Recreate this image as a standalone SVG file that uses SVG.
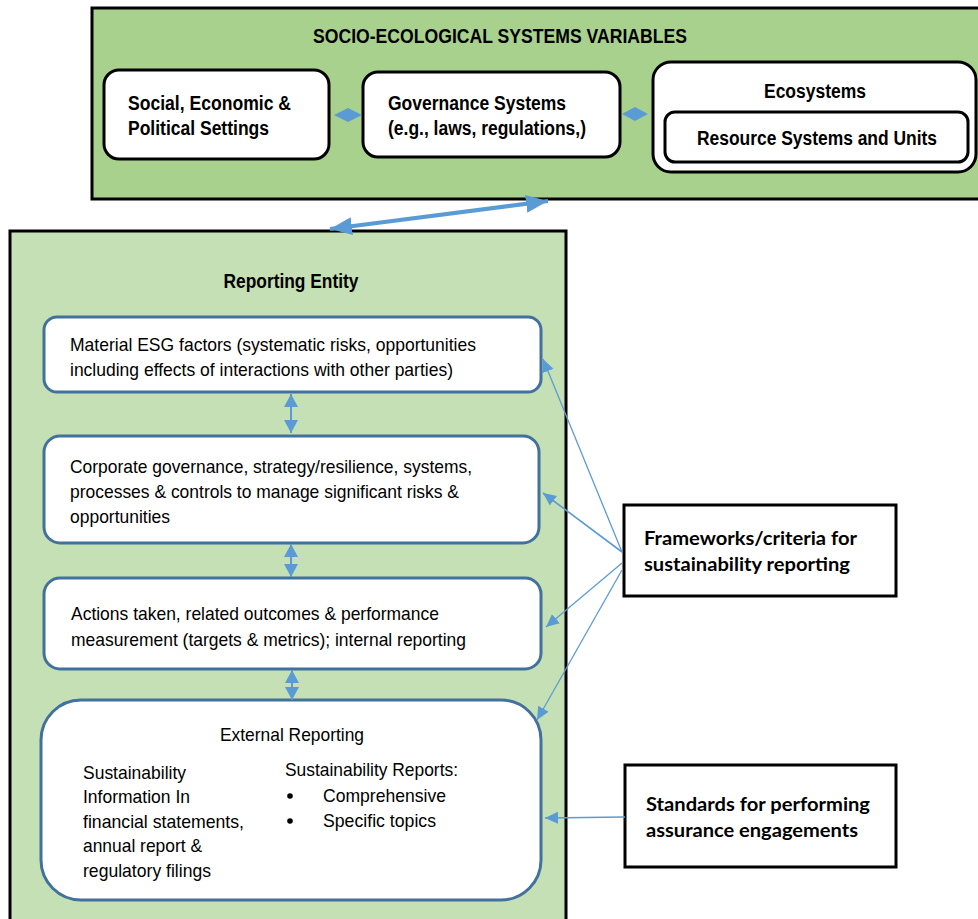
<svg xmlns="http://www.w3.org/2000/svg" width="978" height="919" viewBox="0 0 978 919">
<style>
.hb{font-family:"Liberation Sans Narrow","Liberation Sans",Arial,sans-serif;font-weight:bold;font-size:20px;fill:#000}
.t{font-family:"Liberation Sans Narrow","Liberation Sans",Arial,sans-serif;font-size:19px;fill:#000}
.c{font-family:Lato,"Open Sans","Liberation Sans",sans-serif;font-weight:bold;font-size:18.5px;fill:#000}
.wb{fill:#fff;stroke:#000;stroke-width:3}
.bb{fill:#fff;stroke:#41719c;stroke-width:3}
.con{stroke:#5b9bd5;fill:none}
</style>
<defs>
<marker id="ah" markerUnits="userSpaceOnUse" markerWidth="14" markerHeight="14" refX="13" refY="7" orient="auto-start-reverse"><path d="M0,1 L13,7 L0,13 z" fill="#5b9bd5"/></marker>
<marker id="ahv" markerUnits="userSpaceOnUse" markerWidth="14" markerHeight="16" refX="13" refY="7" orient="auto-start-reverse"><path d="M0,0 L13,7 L0,14 z" fill="#5b9bd5"/></marker>
<marker id="big" markerUnits="userSpaceOnUse" markerWidth="24" markerHeight="20" refX="22" refY="10" orient="auto-start-reverse"><path d="M0,1 L22,10 L0,19 z" fill="#5b9bd5"/></marker>
</defs>

<g id="ses">
<rect x="92" y="8" width="890" height="191" fill="#a9d18e" stroke="#000" stroke-width="3"/>
<text class="hb" x="500" y="43" text-anchor="middle" textLength="374" lengthAdjust="spacingAndGlyphs">SOCIO-ECOLOGICAL SYSTEMS VARIABLES</text>
</g>
<g id="social">
<rect class="wb" x="104" y="70" width="225" height="89" rx="15"/>
<text class="hb" x="128" y="110" textLength="163" lengthAdjust="spacingAndGlyphs">Social, Economic &amp;</text>
<text class="hb" x="128" y="135" textLength="141" lengthAdjust="spacingAndGlyphs">Political Settings</text>
</g>
<g id="governance">
<rect class="wb" x="363" y="72" width="257" height="85" rx="15"/>
<text class="hb" x="388" y="110" textLength="178" lengthAdjust="spacingAndGlyphs">Governance Systems</text>
<text class="hb" x="388" y="135" textLength="198" lengthAdjust="spacingAndGlyphs">(e.g., laws, regulations,)</text>
</g>
<g id="ecosystems">
<rect class="wb" x="653" y="62" width="323" height="110" rx="18"/>
<text class="hb" x="815" y="98" text-anchor="middle" textLength="102" lengthAdjust="spacingAndGlyphs">Ecosystems</text>
</g>
<g id="resource">
<rect class="wb" x="665" y="112" width="303" height="50" rx="10"/>
<text class="hb" x="817" y="145" text-anchor="middle" textLength="240" lengthAdjust="spacingAndGlyphs">Resource Systems and Units</text>
</g>

<g id="reporting">
<rect x="10" y="231" width="556" height="700" fill="#c5e0b4" stroke="#000" stroke-width="3"/>
<text class="hb" x="291" y="288" text-anchor="middle" font-size="19" textLength="135" lengthAdjust="spacingAndGlyphs">Reporting Entity</text>
</g>
<g id="material">
<rect class="bb" x="44" y="317" width="497" height="75" rx="13"/>
<text class="t" x="70" y="351" textLength="406" lengthAdjust="spacingAndGlyphs">Material ESG factors (systematic risks, opportunities</text>
<text class="t" x="70" y="376" textLength="383" lengthAdjust="spacingAndGlyphs">including effects of interactions with other parties)</text>
</g>
<g id="corporate">
<rect class="bb" x="44" y="436" width="495" height="107" rx="16"/>
<text class="t" x="70" y="473" textLength="402" lengthAdjust="spacingAndGlyphs">Corporate governance, strategy/resilience, systems,</text>
<text class="t" x="70" y="498" textLength="389" lengthAdjust="spacingAndGlyphs">processes &amp; controls to manage significant risks &amp;</text>
<text class="t" x="70" y="523" textLength="100" lengthAdjust="spacingAndGlyphs">opportunities</text>
</g>
<g id="actions">
<rect class="bb" x="44" y="578" width="497" height="91" rx="16"/>
<text class="t" x="71" y="620" textLength="368" lengthAdjust="spacingAndGlyphs">Actions taken, related outcomes &amp; performance</text>
<text class="t" x="71" y="646" textLength="395" lengthAdjust="spacingAndGlyphs">measurement (targets &amp; metrics); internal reporting</text>
</g>
<g id="external">
<rect class="bb" x="41" y="700" width="500" height="200" rx="40"/>
<text class="t" x="292" y="741" text-anchor="middle" textLength="144" lengthAdjust="spacingAndGlyphs">External Reporting</text>
<text class="t" x="83" y="779" textLength="103" lengthAdjust="spacingAndGlyphs">Sustainability</text>
<text class="t" x="83" y="803" textLength="107" lengthAdjust="spacingAndGlyphs">Information In</text>
<text class="t" x="83" y="828" textLength="161" lengthAdjust="spacingAndGlyphs">financial statements,</text>
<text class="t" x="83" y="852" textLength="119" lengthAdjust="spacingAndGlyphs">annual report &amp;</text>
<text class="t" x="83" y="877" textLength="128" lengthAdjust="spacingAndGlyphs">regulatory filings</text>
<text class="t" x="285" y="776" textLength="173" lengthAdjust="spacingAndGlyphs">Sustainability Reports:</text>
<circle cx="290" cy="796" r="2.8" fill="#000"/>
<text class="t" x="323" y="802" textLength="123" lengthAdjust="spacingAndGlyphs">Comprehensive</text>
<circle cx="290" cy="821" r="2.8" fill="#000"/>
<text class="t" x="323" y="827" textLength="113" lengthAdjust="spacingAndGlyphs">Specific topics</text>
</g>
<g id="frameworks">
<rect x="624" y="505" width="272" height="91" fill="#fff" stroke="#000" stroke-width="3"/>
<text class="c" x="644" y="545" textLength="213" lengthAdjust="spacingAndGlyphs">Frameworks/criteria for</text>
<text class="c" x="644" y="571" textLength="206" lengthAdjust="spacingAndGlyphs">sustainability reporting</text>
</g>
<g id="standards">
<rect x="625" y="765" width="271" height="102" fill="#fff" stroke="#000" stroke-width="3"/>
<text class="c" x="646" y="811" textLength="224" lengthAdjust="spacingAndGlyphs">Standards for performing</text>
<text class="c" x="646" y="837" textLength="212" lengthAdjust="spacingAndGlyphs">assurance engagements</text>
</g>

<g id="connectors">
<polygon points="334,115 348,108 362,115 348,122" fill="#5b9bd5"/>
<polygon points="622,114 635,107 648,114 635,121" fill="#5b9bd5"/>
<line class="con" x1="330" y1="229" x2="548" y2="201" stroke-width="4" marker-start="url(#big)" marker-end="url(#big)"/>
<line class="con" x1="291" y1="394" x2="291" y2="433" stroke-width="2" marker-start="url(#ahv)" marker-end="url(#ahv)"/>
<line class="con" x1="291" y1="544" x2="291" y2="577" stroke-width="2" marker-start="url(#ahv)" marker-end="url(#ahv)"/>
<line class="con" x1="292" y1="670" x2="292" y2="700" stroke-width="2" marker-start="url(#ahv)" marker-end="url(#ahv)"/>
<line class="con" x1="622" y1="552" x2="543" y2="359" stroke-width="1.3" marker-end="url(#ah)"/>
<line class="con" x1="622" y1="552" x2="543" y2="493" stroke-width="1.6" marker-end="url(#ah)"/>
<line class="con" x1="622" y1="563" x2="546" y2="627" stroke-width="1.3" marker-end="url(#ah)"/>
<line class="con" x1="622" y1="570" x2="537" y2="720" stroke-width="1.3" marker-end="url(#ah)"/>
<line class="con" x1="625" y1="817" x2="545" y2="818" stroke-width="1.6" marker-end="url(#ah)"/>
</g>
</svg>
